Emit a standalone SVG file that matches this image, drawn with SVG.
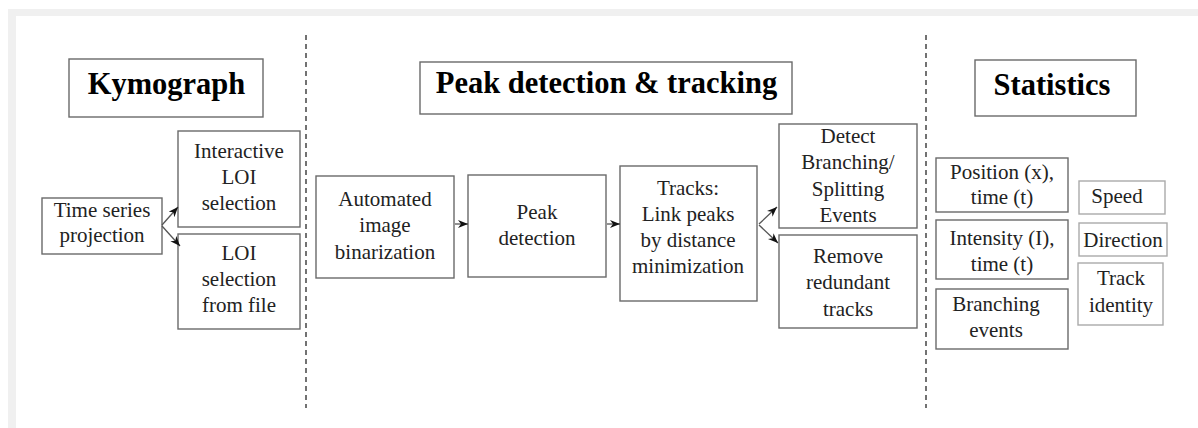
<svg xmlns="http://www.w3.org/2000/svg" width="1198" height="428" viewBox="0 0 1198 428">
<defs>
<style>
.box{fill:#fff;stroke:#6a6a6a;stroke-width:1.4}
.lbox{fill:#fff;stroke:#aaa;stroke-width:1.4}
.t{font-family:'Liberation Serif','DejaVu Serif',serif;font-size:21px;fill:#222;text-anchor:middle}
.h{font-family:'Liberation Serif','DejaVu Serif',serif;font-size:30.5px;font-weight:bold;fill:#000;text-anchor:middle}
.c{stroke:#555;stroke-width:1.3;fill:none}
.dash{stroke:#444;stroke-width:1.5;stroke-dasharray:5 4;fill:none}
</style>
<marker id="ah" markerWidth="12" markerHeight="10" refX="10" refY="4" orient="auto" markerUnits="userSpaceOnUse">
<path d="M0,0 L10,4 L0,8 L3,4 z" fill="#111"/>
</marker>
</defs>
<rect x="0" y="0" width="1198" height="428" fill="#fff"/>
<rect x="8" y="9" width="1190" height="7" fill="#f0f0f0"/>
<rect x="8" y="9" width="8" height="419" fill="#f0f0f0"/>
<g id="dividers">
<line class="dash" x1="306" y1="35" x2="306" y2="408"/>
<line class="dash" x1="926" y1="35" x2="926" y2="408"/>
</g>
<g id="kymograph-title"><rect class="box" x="69" y="59" width="194" height="58"/><text class="h" x="166.5" y="94" font-family="Liberation Serif, serif">Kymograph</text></g>
<g id="peak-title"><rect class="box" x="420" y="62" width="372" height="52"/><text class="h" x="606.5" y="93">Peak detection &amp; tracking</text></g>
<g id="stats-title"><rect class="box" x="975" y="60" width="161" height="56"/><text class="h" x="1052" y="95">Statistics</text></g>
<g id="time-series"><rect class="box" x="42" y="198" width="120" height="56"/><text class="t"><tspan x="102" y="217">Time series</tspan><tspan x="102" y="242">projection</tspan></text></g>
<g id="interactive-loi"><rect class="box" x="178" y="131" width="122" height="96"/><text class="t"><tspan x="239" y="158">Interactive</tspan><tspan x="239" y="184">LOI</tspan><tspan x="239" y="210">selection</tspan></text></g>
<g id="loi-file"><rect class="box" x="178" y="234" width="122" height="95"/><text class="t"><tspan x="239" y="260">LOI</tspan><tspan x="239" y="286">selection</tspan><tspan x="239" y="312">from file</tspan></text></g>
<g id="binarization"><rect class="box" x="316" y="176" width="138" height="102"/><text class="t"><tspan x="385" y="206">Automated</tspan><tspan x="385" y="232">image</tspan><tspan x="385" y="259">binarization</tspan></text></g>
<g id="peak-detection"><rect class="box" x="468" y="175" width="138" height="102"/><text class="t"><tspan x="537" y="219">Peak</tspan><tspan x="537" y="245">detection</tspan></text></g>
<g id="tracks"><rect class="box" x="620" y="166" width="137" height="135"/><text class="t"><tspan x="688" y="195">Tracks:</tspan><tspan x="688" y="221">Link peaks</tspan><tspan x="688" y="247">by distance</tspan><tspan x="688" y="273">minimization</tspan></text></g>
<g id="detect-branching"><rect class="box" x="779" y="124" width="138" height="104"/><text class="t"><tspan x="848" y="143">Detect</tspan><tspan x="848" y="169">Branching/</tspan><tspan x="848" y="196">Splitting</tspan><tspan x="848" y="222">Events</tspan></text></g>
<g id="remove-redundant"><rect class="box" x="779" y="235" width="138" height="93"/><text class="t"><tspan x="848" y="263">Remove</tspan><tspan x="848" y="289">redundant</tspan><tspan x="848" y="316">tracks</tspan></text></g>
<g id="position"><rect class="box" x="936" y="158" width="132" height="54"/><text class="t"><tspan x="1002" y="179">Position (x),</tspan><tspan x="1002" y="204">time (t)</tspan></text></g>
<g id="intensity"><rect class="box" x="936" y="220" width="132" height="59"/><text class="t"><tspan x="1002" y="245">Intensity (I),</tspan><tspan x="1002" y="271">time (t)</tspan></text></g>
<g id="branching-events"><rect class="box" x="936" y="289" width="132" height="60"/><text class="t"><tspan x="996" y="311">Branching</tspan><tspan x="996" y="337">events</tspan></text></g>
<g id="speed"><rect class="lbox" x="1079" y="181" width="86" height="33"/><text class="t" x="1117" y="203">Speed</text></g>
<g id="direction"><rect class="lbox" x="1079" y="223" width="88" height="33"/><text class="t" x="1123" y="247">Direction</text></g>
<g id="track-identity"><rect class="lbox" x="1078" y="263" width="85" height="62"/><text class="t"><tspan x="1121" y="285">Track</tspan><tspan x="1121" y="312">identity</tspan></text></g>
<g id="connectors">
<line class="c" x1="162" y1="225" x2="178" y2="207" marker-end="url(#ah)"/>
<line class="c" x1="162" y1="226" x2="180" y2="246" marker-end="url(#ah)"/>
<line class="c" x1="455" y1="224" x2="468" y2="224" marker-end="url(#ah)"/>
<line class="c" x1="607" y1="224" x2="620" y2="224" marker-end="url(#ah)"/>
<line class="c" x1="759" y1="224" x2="777" y2="207" marker-end="url(#ah)"/>
<line class="c" x1="759" y1="225" x2="778" y2="243" marker-end="url(#ah)"/>
</g>
</svg>
